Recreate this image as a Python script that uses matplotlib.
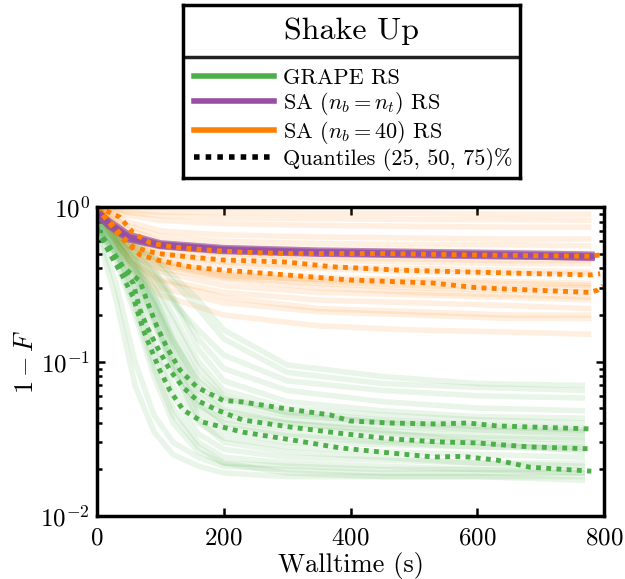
import matplotlib
matplotlib.use("Agg")
import matplotlib.pyplot as plt
from matplotlib.lines import Line2D

plt.rcParams["font.family"] = "serif"
plt.rcParams["font.serif"] = ["cmr10", "DejaVu Serif"]
plt.rcParams["mathtext.fontset"] = "cm"
plt.rcParams["axes.formatter.use_mathtext"] = True

# Colours
green  = "#4daf4a"
purple = "#984ea3"
orange = "#ff7f00"

# Faint GRAPE traces
t_green = [0, 30, 60, 90, 120, 160, 200, 300, 450, 600, 770]
green_runs = [
    [0.70, 0.25, 0.070, 0.035, 0.025, 0.021, 0.019, 0.018, 0.018, 0.018, 0.017],
    [0.74, 0.32, 0.100, 0.045, 0.030, 0.024, 0.021, 0.020, 0.019, 0.019, 0.019],
    [0.80, 0.55, 0.25, 0.10, 0.050, 0.030, 0.024, 0.022, 0.021, 0.020, 0.019],
    [0.75, 0.50, 0.30, 0.13, 0.070, 0.040, 0.032, 0.028, 0.026, 0.025, 0.024],
    [0.85, 0.60, 0.38, 0.20, 0.100, 0.050, 0.038, 0.033, 0.030, 0.028, 0.027],
    [0.70, 0.52, 0.33, 0.17, 0.085, 0.045, 0.035, 0.030, 0.029, 0.028, 0.028],
    [0.90, 0.65, 0.45, 0.27, 0.140, 0.070, 0.050, 0.042, 0.038, 0.036, 0.035],
    [0.80, 0.62, 0.48, 0.33, 0.200, 0.100, 0.065, 0.050, 0.045, 0.042, 0.040],
    [0.72, 0.58, 0.42, 0.24, 0.120, 0.060, 0.045, 0.040, 0.036, 0.033, 0.032],
    [0.88, 0.70, 0.55, 0.40, 0.260, 0.140, 0.090, 0.065, 0.055, 0.050, 0.048],
    [0.82, 0.66, 0.50, 0.36, 0.240, 0.160, 0.110, 0.075, 0.065, 0.060, 0.058],
    [0.76, 0.48, 0.22, 0.090, 0.045, 0.028, 0.022, 0.019, 0.018, 0.018, 0.018],
    [0.92, 0.72, 0.58, 0.45, 0.330, 0.220, 0.140, 0.085, 0.072, 0.068, 0.065],
    [0.78, 0.56, 0.36, 0.19, 0.090, 0.042, 0.030, 0.026, 0.024, 0.022, 0.021],
    [0.84, 0.60, 0.40, 0.22, 0.110, 0.055, 0.040, 0.034, 0.031, 0.030, 0.029],
    [0.74, 0.54, 0.35, 0.18, 0.095, 0.052, 0.042, 0.037, 0.034, 0.032, 0.031],
    [0.86, 0.64, 0.44, 0.26, 0.150, 0.080, 0.058, 0.047, 0.042, 0.039, 0.037],
    [0.70, 0.50, 0.28, 0.12, 0.060, 0.034, 0.027, 0.024, 0.023, 0.022, 0.022],
    [0.90, 0.74, 0.60, 0.48, 0.360, 0.250, 0.160, 0.095, 0.080, 0.072, 0.070],
    [0.83, 0.63, 0.46, 0.30, 0.180, 0.090, 0.060, 0.046, 0.040, 0.036, 0.034],
    [0.77, 0.57, 0.39, 0.23, 0.130, 0.065, 0.048, 0.040, 0.035, 0.030, 0.026],
    [0.81, 0.59, 0.41, 0.25, 0.135, 0.075, 0.055, 0.045, 0.041, 0.038, 0.036],
    [0.73, 0.45, 0.20, 0.080, 0.040, 0.026, 0.022, 0.021, 0.020, 0.020, 0.020],
    [0.87, 0.68, 0.52, 0.38, 0.250, 0.120, 0.075, 0.055, 0.048, 0.044, 0.043],
]

# Faint SA (n_b = 40) traces
t_orange = [0, 20, 50, 100, 200, 350, 500, 650, 780]
orange_runs = [
    [1.0, 0.98, 0.95, 0.93, 0.92, 0.91, 0.91, 0.90, 0.90],
    [1.0, 0.97, 0.92, 0.88, 0.85, 0.84, 0.83, 0.83, 0.82],
    [1.0, 0.95, 0.88, 0.82, 0.78, 0.76, 0.75, 0.74, 0.74],
    [1.0, 0.92, 0.80, 0.70, 0.66, 0.64, 0.63, 0.62, 0.62],
    [1.0, 0.90, 0.72, 0.60, 0.55, 0.53, 0.52, 0.51, 0.50],
    [1.0, 0.85, 0.65, 0.52, 0.47, 0.45, 0.44, 0.43, 0.43],
    [1.0, 0.82, 0.60, 0.48, 0.42, 0.40, 0.38, 0.37, 0.37],
    [1.0, 0.80, 0.58, 0.45, 0.38, 0.35, 0.34, 0.33, 0.32],
    [1.0, 0.78, 0.55, 0.42, 0.35, 0.32, 0.30, 0.29, 0.28],
    [1.0, 0.75, 0.52, 0.38, 0.31, 0.28, 0.27, 0.26, 0.25],
    [1.0, 0.72, 0.48, 0.34, 0.28, 0.25, 0.24, 0.23, 0.22],
    [1.0, 0.70, 0.45, 0.30, 0.24, 0.21, 0.20, 0.19, 0.19],
    [1.0, 0.68, 0.42, 0.27, 0.20, 0.17, 0.16, 0.155, 0.15],
    [1.0, 0.88, 0.75, 0.65, 0.60, 0.58, 0.57, 0.57, 0.56],
    [1.0, 0.80, 0.62, 0.50, 0.44, 0.41, 0.40, 0.39, 0.38],
    [1.0, 0.76, 0.56, 0.44, 0.37, 0.33, 0.31, 0.30, 0.30],
    [1.0, 0.74, 0.50, 0.40, 0.34, 0.30, 0.28, 0.27, 0.26],
    [1.0, 0.70, 0.46, 0.33, 0.26, 0.22, 0.21, 0.20, 0.20],
    [1.0, 0.84, 0.66, 0.56, 0.50, 0.47, 0.46, 0.45, 0.45],
    [1.0, 0.79, 0.57, 0.43, 0.36, 0.34, 0.33, 0.32, 0.31],
]

# SA (n_b = n_t) traces
t_purple = [0, 20, 50, 100, 200, 350, 500, 650, 780]
purple_runs = [
    [0.95, 0.78, 0.64, 0.57, 0.53, 0.51, 0.50, 0.49, 0.48],
    [0.90, 0.75, 0.62, 0.56, 0.52, 0.50, 0.49, 0.48, 0.475],
    [0.92, 0.80, 0.66, 0.58, 0.54, 0.52, 0.51, 0.50, 0.49],
    [0.88, 0.76, 0.63, 0.565, 0.525, 0.505, 0.495, 0.485, 0.47],
]

# GRAPE quantiles
t_g75 = [0, 20, 41, 68, 80, 95, 110, 131, 158, 199, 230, 300, 368, 399, 462, 536, 584, 631, 683, 780]
g75   = [0.72, 0.55, 0.41, 0.33, 0.24, 0.167, 0.124, 0.088, 0.068, 0.056, 0.0547, 0.0493,
         0.0451, 0.0412, 0.040, 0.0394, 0.040, 0.0383, 0.0377, 0.0366]
t_g50 = [0, 20, 40, 57, 68, 79, 95, 115, 136, 158, 189, 230, 304, 383, 462, 536, 600, 683, 780]
g50   = [0.72, 0.52, 0.40, 0.322, 0.215, 0.167, 0.124, 0.088, 0.068, 0.056, 0.0486, 0.0418,
         0.0377, 0.0343, 0.0316, 0.0302, 0.0297, 0.028, 0.0272]
t_g25 = [0, 20, 40, 57, 73, 84, 99, 115, 136, 167, 230, 309, 383, 462, 530, 577, 631, 683, 780]
g25   = [0.72, 0.50, 0.36, 0.261, 0.16, 0.124, 0.088, 0.065, 0.0486, 0.0405, 0.0349, 0.031,
         0.0276, 0.0256, 0.0241, 0.0243, 0.023, 0.0207, 0.0195]

# SA (n_b = 40) quantiles
t_o75 = [0, 5, 36, 57, 84, 120, 173, 226, 300, 451, 584, 778, 794]
o75   = [1.0, 0.985, 0.86, 0.68, 0.585, 0.55, 0.527, 0.51, 0.50, 0.50, 0.49, 0.48, 0.49]
t_o50 = [0, 10, 25, 41, 57, 95, 147, 199, 252, 300, 372, 478, 584, 778, 794]
o50   = [1.0, 0.88, 0.765, 0.64, 0.55, 0.50, 0.475, 0.454, 0.447, 0.44, 0.41, 0.39,
         0.38, 0.363, 0.37]
t_o25 = [0, 16, 32, 47, 68, 95, 147, 199, 237, 300, 399, 530, 600, 688, 778, 790, 798]
o25   = [1.0, 0.82, 0.68, 0.585, 0.49, 0.454, 0.41, 0.39, 0.38, 0.363, 0.337, 0.322,
         0.30, 0.29, 0.28, 0.29, 0.31]

legend_title  = "Shake Up"
legend_labels = ["GRAPE RS", r"SA ($n_b = n_t$) RS", r"SA ($n_b = 40$) RS",
                 "Quantiles (25, 50, 75)%"]


fig = plt.figure(figsize=(6.25, 5.79), dpi=100)
ax = fig.add_axes([97 / 625, 1 - 516 / 579, 507 / 625, 309 / 579])

# faint runs
for run in orange_runs:
    ax.plot(t_orange, run, c=orange, lw=4, alpha=0.12, solid_capstyle="butt")
for run in green_runs:
    ax.plot(t_green, run, c=green, lw=4, alpha=0.12, solid_capstyle="butt")
for run in purple_runs:
    ax.plot(t_purple, run, c=purple, lw=5, alpha=0.65)

# quantiles
dot = (0, (1, 1.1))
for tq, q in [(t_o75, o75), (t_o50, o50), (t_o25, o25)]:
    ax.plot(tq, q, c=orange, lw=3.5, ls=dot, dash_capstyle="butt")
for tq, q in [(t_g75, g75), (t_g50, g50), (t_g25, g25)]:
    ax.plot(tq, q, c=green, lw=3.5, ls=dot, dash_capstyle="butt")

ax.set_yscale("log")
ax.set_ylim(1e-2, 1)
ax.set_xlim(0, 800)
ax.set_xticks([0, 200, 400, 600, 800])
ax.set_xlabel("Walltime (s)", fontsize=19, labelpad=2)
ax.set_ylabel(r"$1-F$", fontsize=19, labelpad=2)

for sp in ax.spines.values():
    sp.set_linewidth(2.5)
ax.tick_params(which="both", direction="in", top=True, right=True,
               labelsize=18, width=1.8)
ax.tick_params(axis="x", pad=8)
ax.tick_params(axis="y", pad=5)
ax.tick_params(which="major", length=6)
ax.tick_params(which="minor", length=3.5)

# legend box
lax = fig.add_axes([183 / 625, 1 - 178 / 579, 337 / 625, 173 / 579])
lax.set_xticks([])
lax.set_yticks([])
for sp in lax.spines.values():
    sp.set_linewidth(2.5)
lax.axhline(0.70, c="#222222", lw=2.5)
lax.text(0.5, 0.85, legend_title, ha="center", va="center", fontsize=23,
         transform=lax.transAxes)

handles = [Line2D([], [], c=green, lw=4),
           Line2D([], [], c=purple, lw=4),
           Line2D([], [], c=orange, lw=4),
           Line2D([], [], c="black", lw=4, ls=(0, (1, 1.1)), dash_capstyle="butt")]
lax.legend(handles, legend_labels, loc="upper left", bbox_to_anchor=(0.0, 0.70),
           frameon=False, fontsize=16, handlelength=3.6, handletextpad=0.4,
           labelspacing=0.1, borderaxespad=0.2, borderpad=0.3)

fig.savefig("out.png", dpi=100)
